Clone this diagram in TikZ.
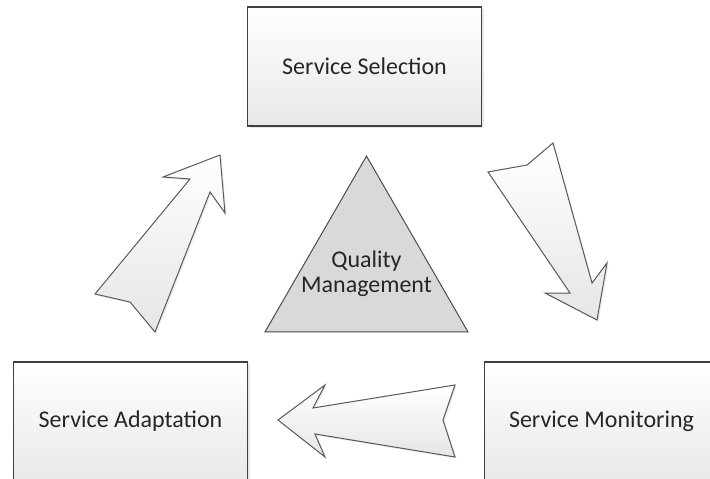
\documentclass[tikz,border=0pt]{standalone}
\usepackage{fontspec}
\setmainfont{Carlito}
\usetikzlibrary{shapes.geometric,shadows}
\tikzset{
  stagebox/.style={draw=black!75, line width=1.2pt, top color=white, bottom color=black!9,
    minimum width=234pt, minimum height=119pt, inner sep=0pt, outer sep=0pt,
    text=black!85, font=\fontsize{24}{25}\selectfont,
    drop shadow={opacity=0.18, shadow xshift=2pt, shadow yshift=-2pt}},
  qualitytri/.style={regular polygon, regular polygon sides=3, draw=black!70, line width=1pt,
    fill=black!15, minimum size=234.4pt, inner sep=0pt, outer sep=0pt},
  qualitytext/.style={align=center, inner sep=0pt, text=black!85, font=\fontsize{24}{25}\selectfont},
  blockarrow/.style={draw=black!65, line width=1pt, top color=white, bottom color=black!10,
    line join=miter, drop shadow={opacity=0.15, shadow xshift=1.5pt, shadow yshift=-1.5pt}}
}
\begin{document}
\begin{tikzpicture}[x=1pt, y=-1pt]
  \path[use as bounding box, clip] (0,0) rectangle (710,479);
  \fill[white] (0,0) rectangle (710,479);

  % the three stages
  \node[stagebox] (selection) at (364.5,66.5) {Service Selection};
  \node[stagebox] (adaptation) at (130.5,421.5) {Service Adaptation};
  \node[stagebox] (monitoring) at (601.5,421.5) {Service Monitoring};

  % centre
  \node[qualitytri] (quality) at (366.5,273.3) {};
  \node[qualitytext] (qualitylabel) at (quality.center) {Quality\\Management};

  % block arrows of the cycle
  \draw[blockarrow] (488,172) -- (527,165) -- (553,143) -- (592,283) -- (607,263)
    -- (597,320) -- (545,293) -- (570,293) -- cycle;
  \draw[blockarrow] (278,420) -- (325,385) -- (313,408) -- (455,385) -- (443,420)
    -- (455,457) -- (315,434) -- (325,457) -- cycle;
  \draw[blockarrow] (220,155) -- (163,177) -- (190,179) -- (95,294) -- (130,302)
    -- (155,332) -- (210,192) -- (225,213) -- cycle;
\end{tikzpicture}
\end{document}
